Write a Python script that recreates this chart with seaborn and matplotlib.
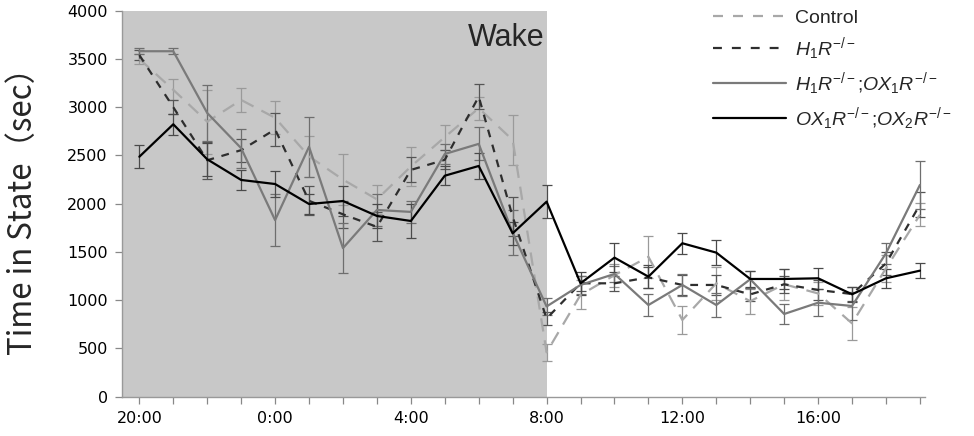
import numpy as np
import pandas as pd
import matplotlib
matplotlib.use("Agg")
import matplotlib.pyplot as plt
import seaborn as sns
from matplotlib.lines import Line2D

# ---- data ----
hours = ["20:00", "21:00", "22:00", "23:00", "0:00", "1:00", "2:00", "3:00",
         "4:00", "5:00", "6:00", "7:00", "8:00", "9:00", "10:00", "11:00",
         "12:00", "13:00", "14:00", "15:00", "16:00", "17:00", "18:00", "19:00"]
tick_labels = ["20:00", "", "", "", "0:00", "", "", "", "4:00", "", "", "",
               "8:00", "", "", "", "12:00", "", "", "", "16:00", "", "", ""]

control = [3500, 3180, 2850, 3075, 2890, 2490, 2250, 2045, 2385, 2690, 2990, 2660,
           460, 1055, 1260, 1450, 795, 1175, 990, 1165, 1070, 760, 1330, 1885]
control_err = [50, 110, 330, 120, 170, 210, 260, 150, 200, 130, 120, 260,
               90, 150, 120, 220, 150, 170, 130, 160, 120, 170, 140, 120]

h1r = [3540, 3000, 2450, 2555, 2770, 2030, 1890, 1760, 2350, 2455, 3110, 1865,
       810, 1175, 1175, 1237, 1158, 1158, 1060, 1165, 1106, 1064, 1382, 1990]
h1r_err = [50, 70, 190, 120, 170, 150, 140, 150, 130, 100, 130, 200,
           70, 80, 80, 110, 100, 100, 70, 90, 100, 70, 120, 130]

h1r_ox1r = [3580, 3580, 2940, 2575, 1830, 2590, 1540, 1935, 1915, 2515, 2620, 1700,
            935, 1158, 1272, 950, 1158, 950, 1217, 857, 974, 940, 1486, 2194]
h1r_ox1r_err = [30, 30, 290, 200, 270, 310, 260, 170, 110, 100, 170, 230,
                90, 90, 80, 110, 110, 120, 90, 100, 140, 150, 110, 250]

ox1r_ox2r = [2487, 2823, 2460, 2246, 2204, 1997, 2028, 1873, 1821, 2290, 2391, 1693,
             2021, 1175, 1441, 1244, 1590, 1493, 1220, 1220, 1227, 1061, 1227, 1306]
ox1r_ox2r_err = [120, 110, 170, 100, 130, 100, 155, 120, 180, 100, 130, 120,
                 170, 120, 150, 120, 110, 130, 80, 100, 110, 80, 100, 80]

series_names = ["Control", r"$H_1R^{-/-}$", r"$H_1R^{-/-}$;$OX_1R^{-/-}$",
                r"$OX_1R^{-/-}$;$OX_2R^{-/-}$"]
values = [control, h1r, h1r_ox1r, ox1r_ox2r]
errors = [control_err, h1r_err, h1r_ox1r_err, ox1r_ox2r_err]

colors = ["#a8a8a8", "#2e2e2e", "#7a7a7a", "#000000"]
err_colors = ["#9a9a9a", "#555555", "#6e6e6e", "#4a4a4a"]
dash_styles = [(6, 4), (3.5, 3.5), None, None]
legend_dashes = [(4.5, 4.5), (4, 4.5), None, None]

# ---- plot ----
sns.set_theme(style="white")
plt.rcParams["font.family"] = ["DejaVu Sans"]
plt.rcParams["mathtext.fontset"] = "custom"
plt.rcParams["mathtext.it"] = "Liberation Sans:italic"
plt.rcParams["mathtext.rm"] = "Liberation Sans"

fig = plt.figure(figsize=(9.74, 4.36), dpi=100)
ax = fig.add_axes([121.7 / 974, 1 - 396.7 / 436, (925 - 121.7) / 974, (396.7 - 10.7) / 436])

x = np.arange(len(hours))
ax.axvspan(-0.52, 12, color="#c8c8c8", zorder=0, lw=0)

handles = []
for name, v, e, c, ec, d, ld in zip(series_names, values, errors, colors,
                                      err_colors, dash_styles, legend_dashes):
    df = pd.DataFrame({"x": x, "y": v})
    ax.errorbar(x, v, yerr=e, fmt="none", ecolor=ec, elinewidth=0.9,
                capsize=3.6, capthick=0.9, zorder=2)
    sns.lineplot(data=df, x="x", y="y", ax=ax, color=c, lw=1.6, zorder=3,
                 legend=False)
    line = ax.lines[-1]
    if d is not None:
        line.set_dashes(d)
    h = Line2D([], [], color=c, lw=1.6)
    if ld is not None:
        h.set_dashes(ld)
    handles.append(h)

ax.set_xlim(-0.52, 23.15)
ax.set_ylim(0, 4000)
ax.set_yticks(np.arange(0, 4001, 500))
ax.set_xticks(x)
ax.set_xticklabels(tick_labels)
ax.tick_params(axis="both", direction="out", length=5, width=0.9,
               color="#888888", labelsize=11.5, labelcolor="black")
ax.tick_params(axis="y", pad=5)
ax.tick_params(axis="x", pad=5)
ax.tick_params(left=True, bottom=True)

for s in ["top", "right"]:
    ax.spines[s].set_visible(False)
for s in ["left", "bottom"]:
    ax.spines[s].set_color("#999999")
    ax.spines[s].set_linewidth(1.0)

ax.set_xlabel("")
ax.set_ylabel("Time in State（sec）", fontsize=22.5,
              family=["Noto Sans CJK JP", "DejaVu Sans"], labelpad=20)

ax.text(11.95, 3720, "Wake", fontsize=22, ha="right", va="center",
        family=["Liberation Sans", "DejaVu Sans"])

leg = fig.legend(handles, series_names, loc="upper left",
                 bbox_to_anchor=(713 / 974, 1 - 9 / 436), frameon=False,
                 handlelength=3.75, handletextpad=0.45,
                 labelspacing=0.42, borderaxespad=0, borderpad=0,
                 prop={"family": ["Liberation Sans", "DejaVu Sans"], "size": 14})

fig.savefig("out.png", dpi=100)
